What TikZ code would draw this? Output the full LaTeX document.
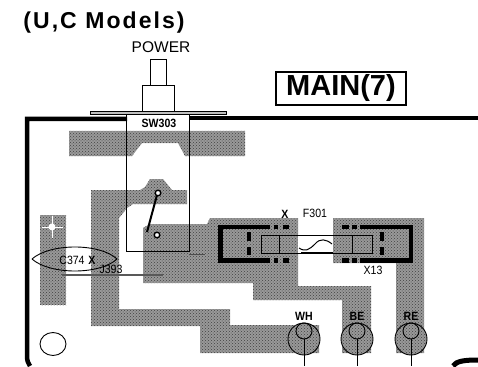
\documentclass[tikz,border=0pt]{standalone}
\usepackage{fontspec}
\setmainfont{Liberation Sans}
\usetikzlibrary{arrows,calc,positioning,patterns}
\definecolor{padgray}{gray}{0.6}
\tikzset{
  padarea/.style={fill=padgray, postaction={pattern=crosshatch dots, pattern color=black!75}},
  thinline/.style={line width=0.9pt, black},
  trace/.style={line width=4.5pt, black},
  small/.style={inner sep=0pt, transform shape, xscale=0.88, font=\fontsize{12}{12}\selectfont},
}
\begin{document}
\begin{tikzpicture}[x=1pt,y=-1pt]
    \useasboundingbox (0,0) rectangle (478,366);
    % Gray copper areas
    \fill[padarea] (69,131) -- (245,131) -- (245,156) -- (185,156) -- (178,143) -- (142,143) -- (132,156) -- (69,156) -- cycle;
    \fill[padarea] (91,190) -- (140,190) -- (145,187) -- (150,179) -- (163,179) -- (172,190) -- (187,190) -- (187,204) -- (133,204) -- (127,208) -- (119,218) -- (119,309) -- (230,309) -- (230,325) -- (319,325) -- (319,353) -- (200,353) -- (200,326) -- (91,326) -- cycle;
    \fill[padarea] (143,228) -- (150,224) -- (207,224) -- (210,218) -- (298,218) -- (298,286) -- (371,286) -- (371,353) -- (342,353) -- (342,300) -- (253,300) -- (253,283) -- (143,283) -- cycle;
    \fill[padarea] (333,218) -- (424,218) -- (424,353) -- (396,353) -- (396,263) -- (333,263) -- cycle;
    \fill[padarea] (40,215) rectangle (66,305);
    % Star in the left strip
    \draw[white, line width=1pt] (42,227) -- (63,227) (52,216) -- (52,238);
    \fill[white] (52,227) circle (3.5);
    % Fuse block
    \draw[trace] (270,227) -- (220.5,227) -- (220.5,260.5) -- (270,260.5);
    \draw[trace] (360,227) -- (411,227) -- (411,260.5) -- (360,260.5);
    \foreach \xa/\xb in {274/278,283/289,342/349,352/357} {
      \fill (\xa,225) rectangle (\xb,229);
      \fill (\xa,258) rectangle (\xb,263);
    }
    \foreach \xx in {249,382} {
      \draw[line width=4pt] (\xx,232) -- (\xx,241);
      \draw[line width=4pt] (\xx,247) -- (\xx,255);
    }
    \fill[white] (298,235) rectangle (333,253);
    \draw[thinline] (261,235) rectangle (372,253);
    \draw[thinline] (279,235) -- (279,253) (352,235) -- (352,253);
    \draw[line width=1.3pt] (301,253) -- (333,253);
    \draw[line width=1pt] (299,248) .. controls (305,252) and (309,250) .. (315,244) .. controls (320,238) and (326,239) .. (332,244);
    % Switch
    \draw[thinline] (126,113) -- (126,251) -- (189,251) -- (189,113);
    \draw[line width=2pt] (157,195) -- (147,232);
    \foreach \cx/\cy in {158/193,157/235} {
      \draw[line width=1.4pt, fill=white] (\cx,\cy) circle (2.8);
    }
    \draw[line width=0.6pt, black!70] (189,254) -- (205,254);
    % Power knob
    \draw[line width=0.9pt] (150,85) -- (150,59) -- (166,59) -- (166,85);
    \draw[line width=0.9pt] (142,111) -- (142,85) -- (174,85) -- (174,111);
    \draw[line width=0.9pt, fill=black!25] (90,111) rectangle (226,114);
    % Board outline
    \draw[line width=4.5pt] (127,119) -- (27,119) -- (27,355) .. controls (27,361) and (28,363) .. (30,366);
    \draw[line width=4.5pt] (189,118) -- (478,118);
    \draw[line width=5pt] (453,366) .. controls (456,361) and (465,360) .. (478,360);
    % Holes and pads
    \draw[line width=0.9pt, fill=white] (53,344) ellipse (13 and 11.5);
    \foreach \px/\pname in {304/WH,357/BE,411/RE} {
      \draw[line width=0.9pt, padarea] (\px,339) circle (16);
      \draw[line width=0.9pt] (\px,331) circle (8);
      \draw[line width=1pt] (\px,339) -- (\px,366);
      \node[small, font=\fontsize{12}{12}\selectfont\bfseries] (pad\pname) at (\px,316) {\pname};
    }
    % Lens around C374
    \draw[line width=0.9pt] (32,259) .. controls (50,243) and (100,243) .. (117,259) .. controls (100,275) and (50,275) .. (32,259);
    \draw[line width=1.3pt, black!65] (62,275) -- (163,275);
    \node[small] (cap) at (72,260) {C374};
    \node[small, font=\fontsize{12}{12}\selectfont\bfseries] (capx) at (92,260) {X};
    \node[small] (jump) at (111,269) {J393};
    \node[small] (fuse) at (315,213) {F301};
    \node[small, font=\fontsize{12}{12}\selectfont\bfseries] (fusex) at (285,214) {X};
    \node[small] (ftt) at (373,270) {X13};
    \node[small] (sw) at (159,123) {\textbf{SW303}};
    % Labels
    \node[inner sep=0pt, font=\fontsize{15.5}{15.5}\selectfont] (power) at (161,47) {POWER};
    \node[inner sep=0pt, font=\fontsize{23}{23}\selectfont\bfseries\addfontfeatures{LetterSpace=9}] (model) at (104,23) {(U,C Models)};
    \node[draw, line width=1.2pt, minimum width=130pt, minimum height=33pt, inner sep=0pt, font=\fontsize{29}{29}\selectfont\bfseries] (main) at (341,88.5) {MAIN(7)};
\end{tikzpicture}
\end{document}
